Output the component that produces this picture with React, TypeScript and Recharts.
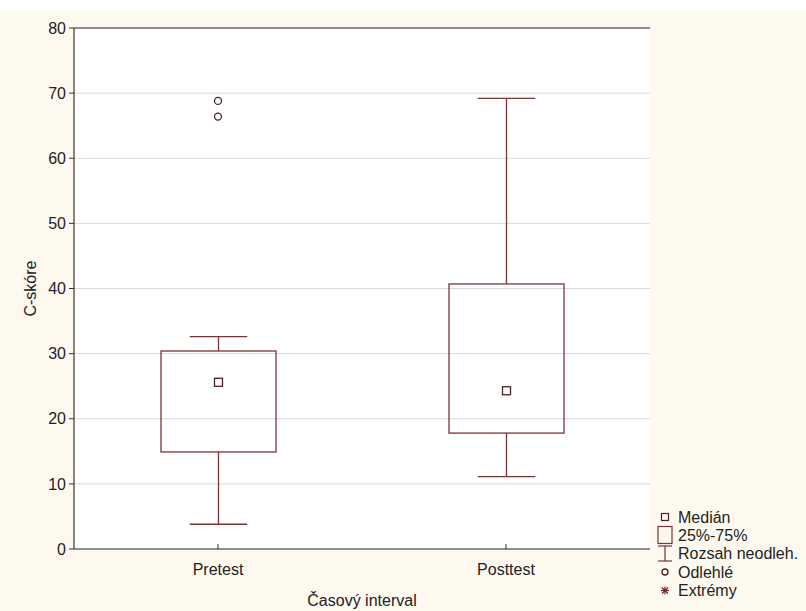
import React from 'react';
import {
  ComposedChart,
  Bar,
  Scatter,
  XAxis,
  YAxis,
  CartesianGrid,
  ReferenceLine,
  Legend,
} from 'recharts';

const categories = ['Pretest', 'Posttest'];
const whiskerLow = [3.8, 11.1];
const q1 = [14.9, 17.8];
const median = [25.6, 24.3];
const q3 = [30.4, 40.7];
const whiskerHigh = [32.6, 69.2];
const outlierA: (number | null)[] = [68.8, null];
const outlierB: (number | null)[] = [66.4, null];
const yTicks = [0, 10, 20, 30, 40, 50, 60, 70, 80];
const legendLabels = ['Medián', '25%-75%', 'Rozsah neodleh.', 'Odlehlé', 'Extrémy'];

const data = categories.map((name, i) => ({
  name,
  range: [whiskerLow[i], whiskerHigh[i]],
  lo: whiskerLow[i],
  hi: whiskerHigh[i],
  q1: q1[i],
  q3: q3[i],
  median: median[i],
  outA: outlierA[i],
  outB: outlierB[i],
}));

const FONT = '"Liberation Sans", Arial, sans-serif';
const BOX = '#7a3434';
const DARK = '#4a2222';
const TEXT = '#222';
const FS = 16;

const BoxShape = (props: any) => {
  const { x, y, width, height, payload } = props;
  if (x == null || y == null || !payload) return <g />;
  const top = Math.min(y, y + height);
  const bot = Math.max(y, y + height);
  const lo = payload.lo;
  const hi = payload.hi;
  const py = (v: number) => bot - ((bot - top) * (v - lo)) / (hi - lo);
  const cx = x + width / 2;
  const cap = width / 4;
  const yq1 = py(payload.q1);
  const yq3 = py(payload.q3);
  const ym = py(payload.median);
  const yhi = py(hi);
  const ylo = py(lo);
  return (
    <g>
      <line x1={cx} y1={yhi} x2={cx} y2={yq3} stroke={BOX} strokeWidth={1.3} />
      <line x1={cx - cap} y1={yhi} x2={cx + cap} y2={yhi} stroke={BOX} strokeWidth={1.3} />
      <line x1={cx} y1={yq1} x2={cx} y2={ylo} stroke={BOX} strokeWidth={1.3} />
      <line x1={cx - cap} y1={ylo} x2={cx + cap} y2={ylo} stroke={BOX} strokeWidth={1.3} />
      <rect x={x} y={yq3} width={width} height={yq1 - yq3} fill="none" stroke={BOX} strokeWidth={1.3} />
      <rect x={cx - 4} y={ym - 4} width={8} height={8} fill="#fff" stroke={DARK} strokeWidth={1.3} />
    </g>
  );
};

const makeOutlier = (key: string) => (props: any) => {
  const { cx, cy, payload } = props;
  if (!payload || payload[key] == null || cx == null || cy == null || isNaN(cy)) return <g />;
  return <circle cx={cx} cy={cy} r={3.5} fill="#fff" stroke={DARK} strokeWidth={1.3} />;
};

const XTick = (props: any) => {
  const { x, y, payload } = props;
  return (
    <g>
      <line x1={x} y1={y} x2={x} y2={y - 5} stroke="#333" strokeWidth={1} />
      <text x={x} y={y + 20} textAnchor="middle" dominantBaseline="central" fontFamily={FONT} fontSize={FS} fill={TEXT}>
        {payload.value}
      </text>
    </g>
  );
};

const YLabel = (props: any) => {
  const { viewBox } = props;
  const cx = viewBox.x + 16;
  const cy = viewBox.y + viewBox.height / 2;
  return (
    <text
      x={cx}
      y={cy}
      transform={`rotate(-90 ${cx} ${cy})`}
      textAnchor="middle"
      dominantBaseline="central"
      fontFamily={FONT}
      fontSize={FS}
      fill={TEXT}
    >
      C-skóre
    </text>
  );
};

const XLabel = (props: any) => {
  const { viewBox } = props;
  const cx = viewBox.x + viewBox.width / 2;
  const cy = viewBox.y + 51;
  return (
    <text x={cx} y={cy} textAnchor="middle" dominantBaseline="central" fontFamily={FONT} fontSize={FS} fill={TEXT}>
      Časový interval
    </text>
  );
};

const LegendContent = () => {
  const rows = [13, 31, 49.5, 68, 86.5];
  const sx = 15;
  const tx = 28;
  return (
    <svg width={156} height={100} style={{ display: 'block', overflow: 'visible' }}>
      <rect x={sx - 3.5} y={rows[0] - 3.5} width={7} height={7} fill="none" stroke={DARK} strokeWidth={1.2} />
      <rect x={sx - 7} y={rows[1] - 8.5} width={14} height={17} fill="none" stroke={BOX} strokeWidth={1.2} />
      <line x1={sx - 7} y1={rows[2] - 7.5} x2={sx + 7} y2={rows[2] - 7.5} stroke={BOX} strokeWidth={1.2} />
      <line x1={sx} y1={rows[2] - 7.5} x2={sx} y2={rows[2] + 7.5} stroke={BOX} strokeWidth={1.2} />
      <line x1={sx - 7} y1={rows[2] + 7.5} x2={sx + 7} y2={rows[2] + 7.5} stroke={BOX} strokeWidth={1.2} />
      <circle cx={sx} cy={rows[3]} r={3} fill="none" stroke={DARK} strokeWidth={1.3} />
      <g stroke="#7a2020" strokeWidth={1.2}>
        <line x1={sx - 4} y1={rows[4]} x2={sx + 4} y2={rows[4]} />
        <line x1={sx} y1={rows[4] - 4} x2={sx} y2={rows[4] + 4} />
        <line x1={sx - 3} y1={rows[4] - 3} x2={sx + 3} y2={rows[4] + 3} />
        <line x1={sx - 3} y1={rows[4] + 3} x2={sx + 3} y2={rows[4] - 3} />
      </g>
      {legendLabels.map((l, i) => (
        <text key={l} x={tx} y={rows[i]} dominantBaseline="central" fontFamily={FONT} fontSize={FS} fill={TEXT}>
          {l}
        </text>
      ))}
    </svg>
  );
};

export default function App() {
  return (
    <div
      style={{
        position: 'absolute',
        left: 0,
        top: 0,
        width: 806,
        height: 611,
        background: 'linear-gradient(#ffffff 0px, #ffffff 11px, #fdf9ef 11px, #fdf9ef 100%)',
      }}
    >
      <ComposedChart
        width={806}
        height={611}
        data={data}
        margin={{ top: 28, right: 156, bottom: 32, left: 14 }}
      >
        <CartesianGrid vertical={false} stroke="#d9d9d9" fill="#ffffff" />
        <XAxis
          dataKey="name"
          height={30}
          tick={<XTick />}
          tickLine={false}
          tickSize={0}
          tickMargin={0}
          axisLine={{ stroke: '#333', strokeWidth: 1.2 }}
          label={<XLabel />}
        />
        <YAxis
          domain={[0, 80]}
          ticks={yTicks}
          width={60}
          tickSize={5}
          tickMargin={3}
          tick={{ fontFamily: FONT, fontSize: FS, fill: TEXT }}
          tickLine={{ stroke: '#333' }}
          axisLine={{ stroke: '#333', strokeWidth: 1.2 }}
          label={<YLabel />}
        />
        <YAxis
          yAxisId="right"
          orientation="right"
          domain={[0, 80]}
          ticks={yTicks}
          width={0}
          mirror
          tick={false}
          tickSize={4}
          tickLine={{ stroke: '#333' }}
          axisLine={{ stroke: '#333', strokeWidth: 1.2 }}
        />
        <ReferenceLine y={80} stroke="#333" strokeWidth={1.2} />
        <Bar dataKey="range" barSize={115} shape={<BoxShape />} isAnimationActive={false} />
        <Scatter dataKey="outA" shape={makeOutlier('outA')} isAnimationActive={false} />
        <Scatter dataKey="outB" shape={makeOutlier('outB')} isAnimationActive={false} />
        <Legend
          layout="horizontal"
          verticalAlign="middle"
          align="center"
          content={<LegendContent />}
          wrapperStyle={{ left: 650, top: 504, width: 156, height: 100 }}
        />
      </ComposedChart>
    </div>
  );
}
